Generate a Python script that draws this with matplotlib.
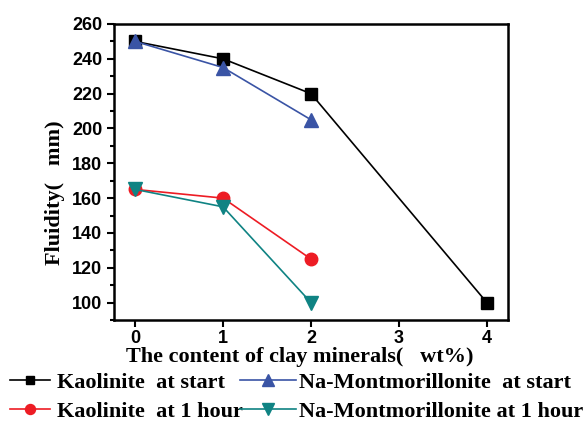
import matplotlib
matplotlib.use("Agg")
from matplotlib import pyplot as plt
from matplotlib.ticker import MultipleLocator

# data
x_kaol_start = [0, 1, 2, 4]
y_kaol_start = [250, 240, 220, 100]
x_na_start = [0, 1, 2]
y_na_start = [250, 235, 205]
x_kaol_1h = [0, 1, 2]
y_kaol_1h = [165, 160, 125]
x_na_1h = [0, 1, 2]
y_na_1h = [165, 155, 100]

W, H = 587, 421
fig = plt.figure(figsize=(W / 100, H / 100), dpi=100)
ax = fig.add_axes([114 / W, 1 - 320 / H, (508 - 114) / W, (320 - 24) / H])

ks, = ax.plot(x_kaol_start, y_kaol_start, color="black", marker="s", markersize=8, lw=1.2,
              label="Kaolinite  at start")
ns, = ax.plot(x_na_start, y_na_start, color="#3a54a5", marker="^", markersize=10, lw=1.2,
              label="Na-Montmorillonite  at start")
k1, = ax.plot(x_kaol_1h, y_kaol_1h, color="#ed1c24", marker="o", markersize=9, lw=1.2,
              label="Kaolinite  at 1 hour")
n1, = ax.plot(x_na_1h, y_na_1h, color="#0f8383", marker="v", markersize=10, lw=1.2,
              label="Na-Montmorillonite at 1 hour")

ax.set_xlim(-0.24, 4.24)
ax.set_ylim(90, 260)
ax.set_xticks([0, 1, 2, 3, 4])
ax.yaxis.set_major_locator(MultipleLocator(20))
ax.yaxis.set_minor_locator(MultipleLocator(10))
ax.tick_params(axis="both", which="both", direction="out", width=1.5, top=False, right=False)
ax.tick_params(axis="both", which="major", length=5)
ax.tick_params(axis="x", which="major", pad=2)
ax.tick_params(axis="y", which="minor", length=3)
for s in ax.spines.values():
    s.set_linewidth(1.8)

for lab in ax.get_xticklabels() + ax.get_yticklabels():
    lab.set_fontfamily("Liberation Sans")
    lab.set_fontweight("bold")
    lab.set_fontsize(13)

ax.set_xlabel("The content of clay minerals(   wt%)", fontfamily="Liberation Serif",
              fontweight="bold", fontsize=16)
ax.xaxis.set_label_coords((300 - 114) / 394, -(347 - 320) / 296)
ax.set_ylabel("Fluidity(   mm)", fontfamily="Liberation Serif",
              fontweight="bold", fontsize=16)
ax.yaxis.set_label_coords((65 - 114) / 394, 1 - (193 - 24) / 296)

legend_font = {"family": "Liberation Serif", "weight": "bold", "size": 16}
# left column
leg1 = fig.legend([ks, k1], [ks.get_label(), k1.get_label()], loc="center left",
                  bbox_to_anchor=(10 / W, 1 - 397 / H), frameon=False, prop=legend_font,
                  handlelength=1.8, handletextpad=0.3, labelspacing=0.4,
                  borderpad=0, borderaxespad=0, markerscale=0.8)
# right column
leg2 = fig.legend([ns, n1], [ns.get_label(), n1.get_label()], loc="center left",
                  bbox_to_anchor=(240 / W, 1 - 397 / H), frameon=False, prop=legend_font,
                  handlelength=2.5, handletextpad=0.15, labelspacing=0.4,
                  borderpad=0, borderaxespad=0, markerscale=0.8)

plt.savefig("out.png", dpi=100)
plt.close()
